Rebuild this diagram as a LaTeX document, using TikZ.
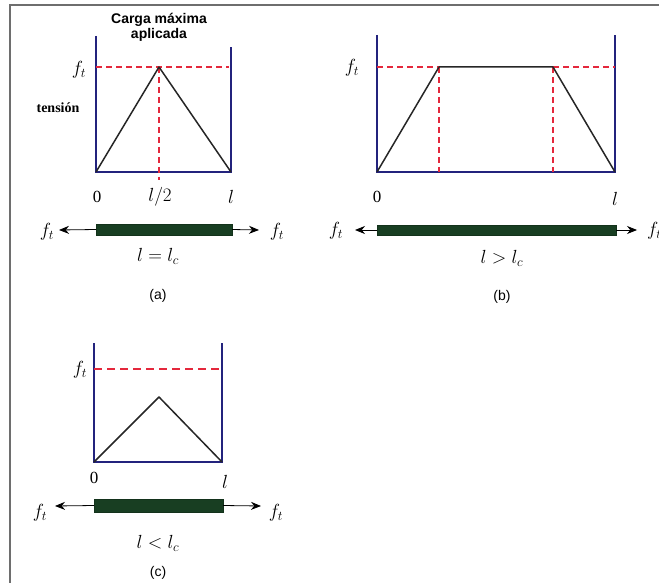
\RequirePackage{fix-cm}
\documentclass[tikz,border=0pt]{standalone}
\usepackage{fontspec}
\newfontfamily\arialf{Liberation Sans}
\newfontfamily\timesf{Liberation Serif}
\usetikzlibrary{arrows.meta}
\definecolor{axisblue}{RGB}{35,35,125}
\definecolor{dashred}{RGB}{228,40,60}
\definecolor{roddark}{RGB}{24,62,34}
\definecolor{framegray}{RGB}{110,110,110}
\tikzset{
  axisline/.style={draw=axisblue, line width=1.8pt},
  refdash/.style={draw=dashred, line width=1.4pt, dash pattern=on 6pt off 4pt},
  refdashthick/.style={draw=dashred, line width=2.6pt, dash pattern=on 8pt off 5pt},
  curveline/.style={draw=black!85, line width=1.5pt, line join=round},
  rodbar/.style={fill=roddark, draw=roddark!80!black, line width=0.4pt, inner sep=0pt, outer sep=0pt},
  forcearrow/.style={draw=black, line width=0.8pt, -{Stealth[length=10pt,width=8pt]}},
  mathlbl/.style={font=\fontsize{19}{23}\selectfont, inner sep=0pt},
  numlbl/.style={font=\timesf\fontsize{17}{20}\selectfont, inner sep=0pt},
  caplbl/.style={font=\arialf\fontsize{14}{17}\selectfont, inner sep=0pt},
}
\begin{document}
\begin{tikzpicture}[x=1pt,y=-1pt]
\useasboundingbox (0,0) rectangle (659,583);
% frame (only top and left visible)
\draw[framegray, line width=1.2pt] (10,583) -- (10,5) -- (659,5);

% ================= panel (a)
\coordinate (a0) at (96,172);
\coordinate (aL) at (231,172);
\coordinate (aPk) at (159,67);
\draw[axisline] (96,36) -- (a0) -- (aL) -- (231,47);
\draw[refdash] (96,67) -- (229,67);
\draw[refdash] (aPk) -- (159,180);
\draw[curveline] (a0) -- (aPk) -- (aL);
\node[font=\arialf\bfseries\fontsize{14}{16}\selectfont, align=center, inner sep=0pt] (aTitle) at (159,27) {Carga máxima\\[-1pt]aplicada};
\node[mathlbl] (aft) at (79,70) {$f_t$};
\node[font=\timesf\bfseries\fontsize{14}{16}\selectfont, inner sep=0pt] (aTens) at (58,108) {tensión};
\node[numlbl] (a0lbl) at (97,197) {0};
\node[mathlbl] (ahalf) at (160,197) {$l/2$};
\node[mathlbl] (alend) at (231,197) {$l$};
\node[rodbar, minimum width=136pt, minimum height=11pt] (rodA) at (164,229.5) {};
\coordinate (aArrL) at (59,230);
\coordinate (aArrR) at (259,230);
\draw[forcearrow] (rodA.west) -- (aArrL);
\draw[forcearrow] (rodA.east) -- (aArrR);
\node[mathlbl] (aftL) at (47,232) {$f_t$};
\node[mathlbl] (aftR) at (277,232) {$f_t$};
\node[mathlbl] (aEq) at (158,256) {$l = l_c$};
\node[caplbl] (aCap) at (158,296) {(a)};

% ================= panel (b)
\coordinate (b0) at (377,172);
\coordinate (bL) at (615,172);
\coordinate (bP1) at (439,67);
\coordinate (bP2) at (553,67);
\draw[axisline] (377,35) -- (b0) -- (bL) -- (615,35);
\draw[refdash] (377,67) -- (bP1);
\draw[refdash] (bP2) -- (615,67);
\draw[refdash] (bP1) -- (439,172);
\draw[refdash] (bP2) -- (553,172);
\draw[curveline] (b0) -- (bP1) -- (bP2) -- (bL);
\node[mathlbl] (bft) at (352,68) {$f_t$};
\node[numlbl] (b0lbl) at (377,197) {0};
\node[mathlbl] (blend) at (615,199) {$l$};
\node[rodbar, minimum width=239pt, minimum height=10pt] (rodB) at (496.5,230) {};
\coordinate (bArrL) at (355,230);
\coordinate (bArrR) at (637,230);
\draw[forcearrow] (rodB.west) -- (bArrL);
\draw[forcearrow] (rodB.east) -- (bArrR);
\node[mathlbl] (bftL) at (336,231) {$f_t$};
\node[mathlbl, anchor=west] (bftR) at (647,231) {$f_t$};
\node[mathlbl] (bEq) at (502,258) {$l > l_c$};
\node[caplbl] (bCap) at (502,297) {(b)};

% ================= panel (c)
\coordinate (c0) at (94,462);
\coordinate (cL) at (222,462);
\coordinate (cPk) at (159,397);
\draw[axisline] (94,343) -- (c0) -- (cL) -- (222,343);
\draw[refdashthick] (94,369) -- (222,369);
\draw[curveline] (c0) -- (cPk) -- (cL);
\node[mathlbl] (cft) at (80,370) {$f_t$};
\node[numlbl] (c0lbl) at (94,478) {0};
\node[mathlbl] (clend) at (225,482) {$l$};
\node[rodbar, minimum width=129pt, minimum height=13pt] (rodC) at (158.5,505.5) {};
\coordinate (cArrL) at (55,506);
\coordinate (cArrR) at (261,506);
\draw[forcearrow] (rodC.west) -- (cArrL);
\draw[forcearrow] (rodC.east) -- (cArrR);
\node[mathlbl] (cftL) at (40,513) {$f_t$};
\node[mathlbl] (cftR) at (276,513) {$f_t$};
\node[mathlbl] (cEq) at (158,543) {$l < l_c$};
\node[caplbl] (cCap) at (158,573) {(c)};
\end{tikzpicture}
\end{document}
